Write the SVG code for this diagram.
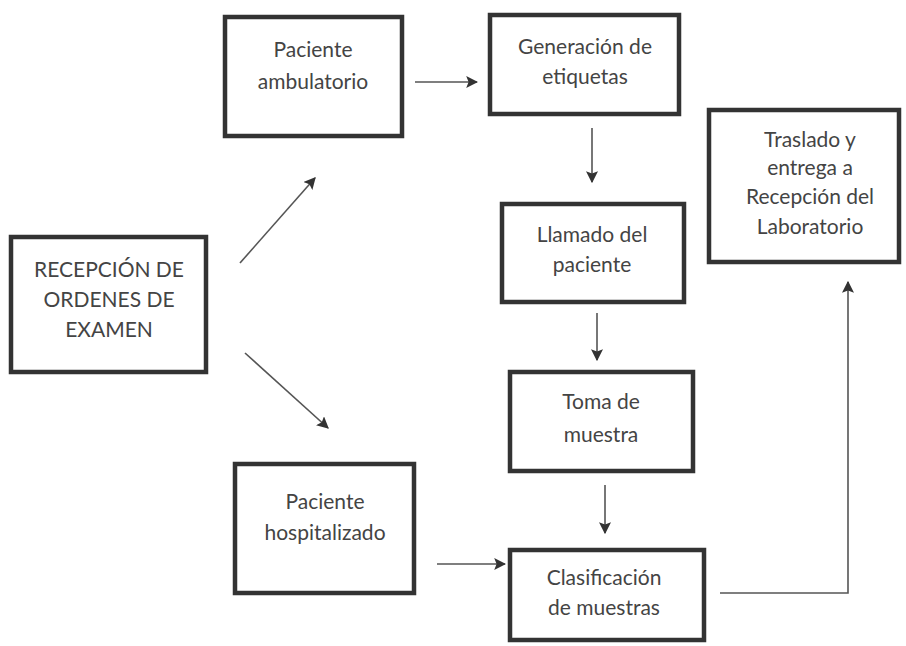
<svg xmlns="http://www.w3.org/2000/svg" width="906" height="646" viewBox="0 0 906 646">
<style>
.box{fill:#fff;stroke:#333;stroke-width:4.5}
.t{font-family:Lato,"Open Sans",sans-serif;font-size:21px;font-weight:400;fill:#444;text-anchor:middle}
.c{stroke:#555;stroke-width:1.6;fill:none}
</style>
<defs>
<marker id="ah" viewBox="0 0 10 10" refX="9" refY="5" markerWidth="12" markerHeight="12" markerUnits="userSpaceOnUse" orient="auto">
<path d="M0,0 L10,5 L0,10 L2,5 Z" fill="#333"/>
</marker>
</defs>
<rect width="906" height="646" fill="#fff"/>
<g id="connectors">
<line class="c" x1="240" y1="263" x2="315" y2="178" marker-end="url(#ah)"/>
<line class="c" x1="245" y1="353" x2="328" y2="428" marker-end="url(#ah)"/>
<line class="c" x1="415" y1="82" x2="477" y2="82" marker-end="url(#ah)"/>
<line class="c" x1="592" y1="128" x2="592" y2="182" marker-end="url(#ah)"/>
<line class="c" x1="597" y1="313" x2="597" y2="360" marker-end="url(#ah)"/>
<line class="c" x1="605" y1="485" x2="605" y2="533" marker-end="url(#ah)"/>
<line class="c" x1="437" y1="564" x2="505" y2="564" marker-end="url(#ah)"/>
<polyline class="c" points="720,593 848,593 848,282" marker-end="url(#ah)"/>
</g>
<g id="n-recepcion">
<rect class="box" x="11" y="237" width="195" height="135"/>
<text class="t" x="109" y="277">RECEPCIÓN DE</text>
<text class="t" x="109" y="307">ORDENES DE</text>
<text class="t" x="109" y="337">EXAMEN</text>
</g>
<g id="n-ambulatorio">
<rect class="box" x="225" y="17" width="177" height="119"/>
<text class="t" x="313" y="57">Paciente</text>
<text class="t" x="313" y="89">ambulatorio</text>
</g>
<g id="n-etiquetas">
<rect class="box" x="490" y="15" width="189" height="99"/>
<text class="t" x="585" y="54">Generación de</text>
<text class="t" x="585" y="84">etiquetas</text>
</g>
<g id="n-llamado">
<rect class="box" x="502" y="204" width="182" height="98"/>
<text class="t" x="592" y="242">Llamado del</text>
<text class="t" x="592" y="272">paciente</text>
</g>
<g id="n-toma">
<rect class="box" x="510" y="372" width="183" height="99"/>
<text class="t" x="601" y="409">Toma de</text>
<text class="t" x="601" y="442">muestra</text>
</g>
<g id="n-clasificacion">
<rect class="box" x="510" y="550" width="194" height="90"/>
<text class="t" x="604" y="585">Clasificación</text>
<text class="t" x="604" y="615">de muestras</text>
</g>
<g id="n-hospitalizado">
<rect class="box" x="235" y="464" width="179" height="129"/>
<text class="t" x="325" y="509">Paciente</text>
<text class="t" x="325" y="540">hospitalizado</text>
</g>
<g id="n-traslado">
<rect class="box" x="709" y="110" width="190" height="152"/>
<text class="t" x="810" y="147">Traslado y</text>
<text class="t" x="810" y="175">entrega a</text>
<text class="t" x="810" y="204">Recepción del</text>
<text class="t" x="810" y="234">Laboratorio</text>
</g>
</svg>
